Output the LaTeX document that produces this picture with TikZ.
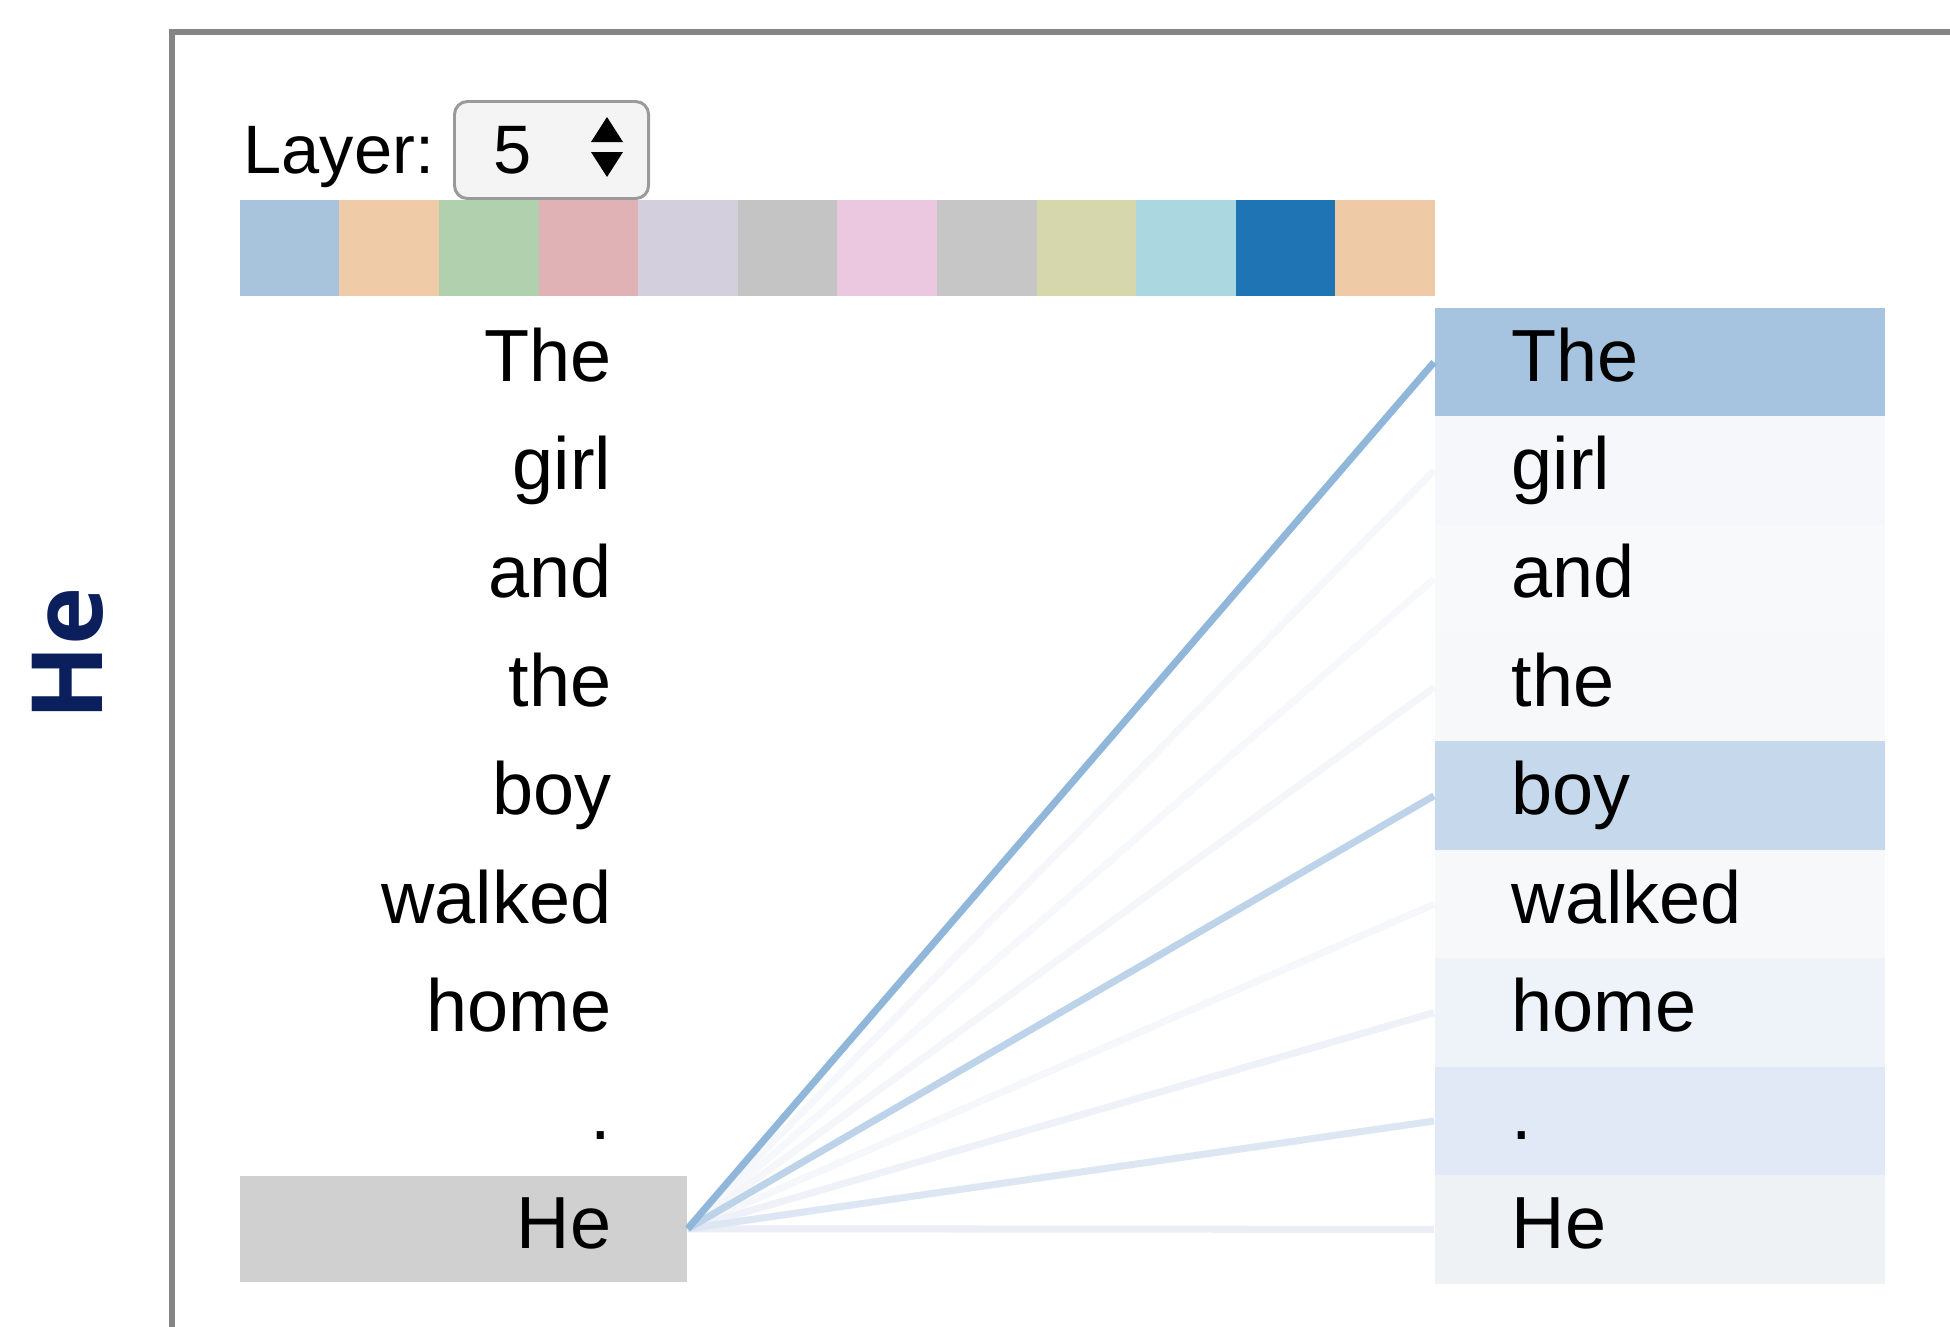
\documentclass[tikz,border=0pt]{standalone}
\usepackage{fontspec}
\setmainfont{Liberation Sans}
\newfontfamily\sidefont{Open Sans}
\definecolor{framegray}{HTML}{858585}
\definecolor{navy}{HTML}{0A1F5C}
\definecolor{c1}{HTML}{A8C4DC}
\definecolor{c2}{HTML}{F0CBA8}
\definecolor{c3}{HTML}{B0D0AE}
\definecolor{c4}{HTML}{E0B1B5}
\definecolor{c5}{HTML}{D3CFDC}
\definecolor{c6}{HTML}{C4C4C4}
\definecolor{c7}{HTML}{ECC8E0}
\definecolor{c8}{HTML}{C6C6C6}
\definecolor{c9}{HTML}{D7D7AD}
\definecolor{c10}{HTML}{ABD7E1}
\definecolor{c11}{HTML}{1F74B3}
\definecolor{c12}{HTML}{EECAA6}
\definecolor{fThe}{HTML}{A6C4DF}
\definecolor{fgirl}{HTML}{F6F7FA}
\definecolor{fand}{HTML}{F8F9FB}
\definecolor{fthe}{HTML}{F7F8FA}
\definecolor{fboy}{HTML}{C6D9EC}
\definecolor{fwalked}{HTML}{F7F8FA}
\definecolor{fhome}{HTML}{EEF2F9}
\definecolor{fdot}{HTML}{E0E9F5}
\definecolor{fHe}{HTML}{EEF2F4}
\definecolor{lThe}{HTML}{90B7DA}
\definecolor{lgirl}{HTML}{F5F7FA}
\definecolor{land}{HTML}{F6F8FB}
\definecolor{lthe}{HTML}{F4F6FA}
\definecolor{lboy}{HTML}{BDD3EA}
\definecolor{lwalked}{HTML}{F5F7FA}
\definecolor{lhome}{HTML}{EEF2F8}
\definecolor{ldot}{HTML}{DCE7F3}
\definecolor{lHe}{HTML}{EBEFF5}
\definecolor{selfill}{HTML}{F4F4F4}
\definecolor{selborder}{HTML}{9A9A9A}
\definecolor{hebox}{HTML}{D0D0D0}
\begin{document}
\begin{tikzpicture}[x=0.01cm,y=-0.01cm,
  tok/.style={font=\fontsize{21}{25}\selectfont, inner sep=0pt},
  swatch/.style={minimum width=0.996cm, minimum height=0.96cm, inner sep=0pt, anchor=north west},
  rowbox/.style={minimum width=4.5cm, minimum height=1.09cm, inner sep=0pt, anchor=north west},
  conn/.style={line width=2pt}]
\useasboundingbox[fill=white] (0,0) rectangle (1950,1327);
% frame
\draw[framegray, line width=1.45pt] (172,1340) -- (172,32) -- (1960,32);
% side label
\node[rotate=90, inner sep=0pt, text=navy, font=\sidefont\bfseries\fontsize{28}{30}\selectfont] (side) at (68,654) {He};
% layer selector
\node[font=\fontsize{19.5}{23}\selectfont, inner sep=0pt, anchor=base west] (layer) at (243,173) {Layer:};
\node[draw=selborder, fill=selfill, line width=0.85pt, rounded corners=0.13cm, minimum width=1.94cm, minimum height=0.97cm, anchor=north west, inner sep=0pt] (sel) at (453,100) {};
\node[font=\fontsize{19.5}{23}\selectfont, inner sep=0pt, anchor=base west] (num) at (493,173) {5};
\fill (591,142) -- (623,142) -- (607,117) -- cycle;
\fill (591,152) -- (623,152) -- (607,177) -- cycle;
% colour bar
\foreach \i in {1,...,12}{
  \node[swatch, fill=c\i] (sw\i) at ({239+99.6*(\i-1)},199) {};
}
% left He box
\node[fill=hebox, minimum width=4.47cm, minimum height=1.06cm, inner sep=0pt, anchor=north west] (lbox) at (239,1175) {};
% rows
\foreach \i/\w/\f in {1/The/fThe,2/girl/fgirl,3/and/fand,4/the/fthe,5/boy/fboy,6/walked/fwalked,7/home/fhome,8/./fdot,9/He/fHe}{
  \pgfmathsetmacro\ty{307+108.4*(\i-1)}
  \pgfmathsetmacro\by{361+108.4*(\i-1)+20}
  \node[rowbox, fill=\f] (r\i) at (1434,\ty) {};
  \node[tok, anchor=base west] (rt\i) at (1511,\by) {\w};
  \node[tok, anchor=base east] (lt\i) at (612,\by) {\w};
}
% connectors
\foreach \i/\l in {2/lgirl,3/land,4/lthe,6/lwalked,9/lHe,7/lhome,8/ldot,5/lboy,1/lThe}{
  \draw[conn, draw=\l] (lbox.east) -- (r\i.west);
}
\end{tikzpicture}
\end{document}
